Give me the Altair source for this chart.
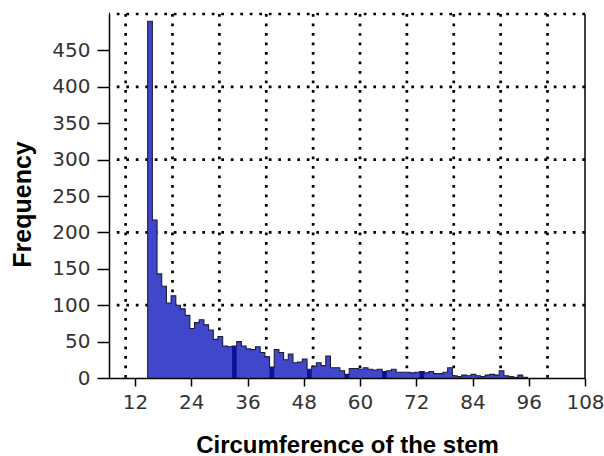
import altair as alt
import pandas as pd

# ---- data ----
counts = [490, 217, 143, 126, 103, 113, 100, 95, 86, 68,
          76, 80, 73, 66, 53, 57, 44, 43, 44, 50,
          44, 40, 39, 43, 35, 29, 15, 39, 35, 25,
          33, 21, 22, 26, 12, 16, 21, 17, 30, 14,
          14, 10, 5, 13, 13, 12, 14, 12, 11, 12,
          9, 10, 12, 8, 8, 8, 7, 8, 9, 7,
          9, 6, 6, 8, 14, 3, 2, 4, 3, 5,
          3, 2, 4, 5, 4, 10, 3, 2, 1, 4,
          1]
FIRST_EDGE = 14.7
BIN_WIDTH = 1.0
x_ticks = [12, 24, 36, 48, 60, 72, 84, 96, 108]
y_ticks = [0, 50, 100, 150, 200, 250, 300, 350, 400, 450]
x_grid = [10, 20, 30, 40, 50, 60, 70, 80, 90, 100]
y_grid = [100, 200, 300, 400, 500]
X_DOMAIN = [6.45, 108]
Y_DOMAIN = [0, 500]
dark_bins = [18, 26, 34, 42, 50, 58]

# ---- tables ----
n = len(counts)
edges = [FIRST_EDGE + i * BIN_WIDTH for i in range(n + 1)]
bars = pd.DataFrame({
    "idx": list(range(n)),
    "lo": edges[:-1],
    "hi": edges[1:],
    "count": counts,
})
prof_x = [edges[0]] + edges[:-1] + [edges[-1]]
prof_y = [0] + counts + [0]
profile = pd.DataFrame({"o": list(range(len(prof_x))), "edge": prof_x, "count": prof_y})
area_df = profile.iloc[1:].reset_index(drop=True)

xs = alt.Scale(domain=X_DOMAIN, nice=False, zero=False)
ys = alt.Scale(domain=Y_DOMAIN, nice=False, zero=False)

BLUE = "#4047CA"
DARK = "#10109A"
dot = dict(strokeDash=[2.7, 6.8], strokeWidth=2.7, strokeCap="butt", color="black")

x_axis = alt.Axis(values=x_ticks, title="Circumference of the stem", grid=False,
                  labelFont="DejaVu Sans", labelFontSize=20, labelColor="#333333",
                  labelPadding=6, labelFlush=False, labelOverlap=False,
                  tickSize=8, tickWidth=1.5, tickColor="black",
                  domainColor="black", domainWidth=1.5,
                  titleFont="Liberation Sans", titleFontSize=24, titleFontWeight="bold",
                  titleColor="black", titleY=74, titleBaseline="alphabetic", zindex=1)
y_axis = alt.Axis(values=y_ticks, title="Frequency", grid=False,
                  labelFont="DejaVu Sans", labelFontSize=20, labelColor="#333333",
                  labelPadding=7, labelFlush=False, labelOverlap=False,
                  tickSize=12, tickWidth=1.5, tickColor="black",
                  domainColor="black", domainWidth=1.5,
                  titleFont="Liberation Sans", titleFontSize=25, titleFontWeight="bold",
                  titleColor="black", titleAngle=270, titleX=-79, titleY=190,
                  titleAlign="center", titleBaseline="alphabetic", zindex=1)


def X(field):
    return alt.X(field, scale=xs, axis=x_axis)


def Y(field, **kw):
    return alt.Y(field, scale=ys, axis=y_axis, **kw)


gx = alt.Chart(pd.DataFrame({"g": x_grid})).mark_rule(**dot).encode(x=X("g:Q"))
gy = alt.Chart(pd.DataFrame({"g": y_grid})).mark_rule(**dot).encode(y=Y("g:Q"))

area = alt.Chart(area_df).mark_area(interpolate="step-after", color=BLUE).encode(
    x=X("edge:Q"),
    y=Y("count:Q", stack=None),
)

dark = alt.Chart(bars).transform_filter(
    alt.FieldOneOfPredicate(field="idx", oneOf=dark_bins)
).mark_rect(color=DARK).encode(
    x=X("lo:Q"),
    x2="hi:Q",
    y=Y("count:Q"),
    y2=alt.datum(0),
)

outline = alt.Chart(profile).mark_line(interpolate="step-after", color="#1c1c3a",
                                       strokeWidth=1.1).encode(
    x=X("edge:Q"),
    y=Y("count:Q"),
    order="o:Q",
)

right = alt.Chart(pd.DataFrame({"r": [X_DOMAIN[1]]})).mark_rule(
    color="black", strokeWidth=1.5).encode(x=X("r:Q"))

chart = alt.layer(gx, gy, area, dark, outline, right).properties(
    width=476, height=364,
    autosize=alt.AutoSizeParams(type="none"),
    padding={"left": 109, "top": 14, "right": 19, "bottom": 78},
    background="white",
).configure_view(stroke=None)

chart.save("out.html", embed_options={"renderer": "svg", "actions": False})
